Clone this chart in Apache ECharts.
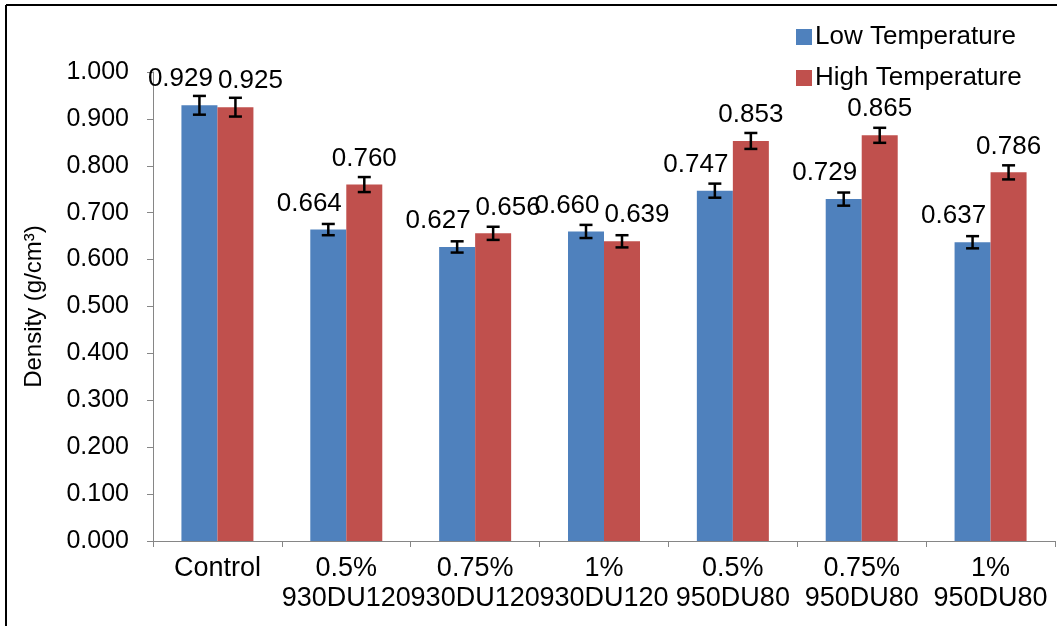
<!DOCTYPE html>
<html>
<head>
<meta charset="utf-8">
<script src="https://cdn.jsdelivr.net/npm/echarts@6/dist/echarts.min.js"></script>
<style>
html,body{margin:0;padding:0;background:#fff;}
#chart{width:1057px;height:626px;}
</style>
</head>
<body>
<div id="chart"></div>
<script>
const categories = ['Control', '0.5%\n930DU120', '0.75%\n930DU120', '1%\n930DU120', '0.5%\n950DU80', '0.75%\n950DU80', '1%\n950DU80'];
const lowTemp = [0.929, 0.664, 0.627, 0.660, 0.747, 0.729, 0.637];
const highTemp = [0.925, 0.760, 0.656, 0.639, 0.853, 0.865, 0.786];
const lowErr = [0.020, 0.012, 0.012, 0.014, 0.015, 0.014, 0.013];
const highErr = [0.020, 0.016, 0.014, 0.013, 0.017, 0.016, 0.015];
const seriesNames = ['Low Temperature', 'High Temperature'];
const yTicks = ['0.000','0.100','0.200','0.300','0.400','0.500','0.600','0.700','0.800','0.900','1.000'];

const BAR_W = 36;
const FONT = '"Liberation Sans", Arial, sans-serif';
const chart = echarts.init(document.getElementById('chart'));

function errSeries(vals, errs, sign) {
  return {
    type: 'custom',
    z: 10,
    silent: true,
    data: vals.map((v, i) => [i, v, errs[i]]),
    encode: { x: 0, y: 1 },
    renderItem: function (params, api) {
      const i = api.value(0), v = api.value(1), e = api.value(2);
      const c = api.coord([i, v]);
      const x = c[0] + sign * BAR_W / 2;
      const yt = api.coord([i, v + e])[1];
      const yb = api.coord([i, v - e])[1];
      const st = { stroke: '#000', lineWidth: 2.5 };
      return {
        type: 'group',
        children: [
          { type: 'line', shape: { x1: x, y1: yt, x2: x, y2: yb }, style: st },
          { type: 'line', shape: { x1: x - 6.5, y1: yt, x2: x + 6.5, y2: yt }, style: st },
          { type: 'line', shape: { x1: x - 6.5, y1: yb, x2: x + 6.5, y2: yb }, style: st }
        ]
      };
    }
  };
}

const highData = highTemp.map((v, i) => {
  const close = Math.abs(v - lowTemp[i]) < 0.05;
  return close ? { value: v, label: { offset: [15, 0] } } : v;
});

const option = {
  animation: false,
  backgroundColor: '#fff',
  textStyle: { fontFamily: FONT },
  legend: {
    data: seriesNames,
    orient: 'vertical',
    left: 791,
    top: 19,
    itemWidth: 16,
    itemHeight: 16,
    itemGap: 15,
    icon: 'rect',
    textStyle: { fontSize: 26, color: '#000', fontFamily: FONT, lineHeight: 26, padding: [0, 0, 0, -2] }
  },
  grid: { left: 153, right: 2, top: 72, bottom: 85 },
  xAxis: {
    type: 'category',
    data: categories,
    axisLine: { lineStyle: { color: '#868686', width: 1 } },
    axisTick: { show: true, length: 6, lineStyle: { color: '#868686' } },
    axisLabel: { interval: 0, color: '#000', fontSize: 27, lineHeight: 30, margin: 13, fontFamily: FONT }
  },
  yAxis: {
    type: 'value',
    min: 0, max: 1, interval: 0.1,
    name: 'Density (g/cm³)',
    nameLocation: 'middle',
    nameGap: 107,
    nameRotate: 90,
    nameTextStyle: { color: '#000', fontSize: 24, fontFamily: FONT },
    splitLine: { show: false },
    axisLine: { show: true, lineStyle: { color: '#868686', width: 1 } },
    axisTick: { show: true, length: 6, lineStyle: { color: '#868686' } },
    axisLabel: {
      color: '#000', fontSize: 25, margin: 24, fontFamily: FONT,
      formatter: function (v) { return yTicks[Math.round(v * 10)]; }
    }
  },
  series: [
    {
      name: seriesNames[0], type: 'bar', data: lowTemp, barWidth: BAR_W, barGap: '0%',
      itemStyle: { color: '#4F81BD' },
      label: { show: true, position: 'top', distance: 13, offset: [-19, 0], color: '#000', fontSize: 26, fontFamily: FONT,
        formatter: p => p.value.toFixed(3) }
    },
    {
      name: seriesNames[1], type: 'bar', data: highData, barWidth: BAR_W, barGap: '0%',
      itemStyle: { color: '#C0504D' },
      label: { show: true, position: 'top', distance: 13, color: '#000', fontSize: 26, fontFamily: FONT,
        formatter: p => p.value.toFixed(3) }
    },
    errSeries(lowTemp, lowErr, -1),
    errSeries(highTemp, highErr, 1)
  ],
  graphic: [
    { type: 'line', shape: { x1: 6, y1: 5, x2: 1057, y2: 5 }, style: { stroke: '#000', lineWidth: 2 } },
    { type: 'line', shape: { x1: 6, y1: 5, x2: 6, y2: 626 }, style: { stroke: '#000', lineWidth: 2 } }
  ]
};
chart.setOption(option);
</script>
</body>
</html>
